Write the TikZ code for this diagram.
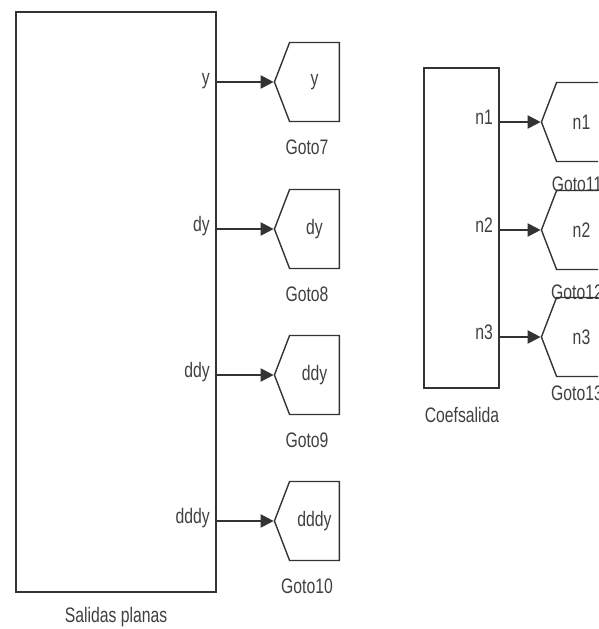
\documentclass[tikz,border=0pt]{standalone}
\usepackage{fontspec}
\setmainfont[FakeStretch=0.75]{Liberation Sans}
\usetikzlibrary{shapes.symbols,arrows.meta}
\newcommand{\corLinha}{black!80}
\newcommand{\corTexto}{black!75}
\newcommand{\letra}{\fontsize{21}{21}\selectfont}
\tikzset{
  bloco/.style={draw=\corLinha, line width=1.4pt, fill=white, inner sep=0pt},
  gotobloco/.style={shape=signal, signal to=west, signal pointer angle=138,
    draw=\corLinha, line width=1.4pt, minimum width=65pt, minimum height=79pt,
    inner sep=0pt, font=\letra, text=\corTexto},
  rotulo/.style={font=\letra, text=\corTexto, inner sep=0pt},
  sinal/.style={draw=\corLinha, line width=2pt, -{Triangle[length=13pt,width=13pt]}},
}
\begin{document}
\begin{tikzpicture}[x=1pt, y=-1pt]
        \useasboundingbox (0,0) rectangle (598,629);
        \clip (0,0) rectangle (598,629);

          % bloco Salidas planas
        \node[bloco, minimum width=200pt, minimum height=580pt] (salidas) at (116,302) {};
        \node[rotulo] (salidasLbl) at (116,617) {Salidas planas};

          % portas de saida
        \coordinate (pY)    at (216,82);
        \coordinate (pDY)   at (216,229);
        \coordinate (pDDY)  at (216,375);
        \coordinate (pDDDY) at (216,521);
        \node[rotulo, anchor=mid east] at (210,82)  {y};
        \node[rotulo, anchor=mid east] at (210,229) {dy};
        \node[rotulo, anchor=mid east] at (210,375) {ddy};
        \node[rotulo, anchor=mid east] at (210,521) {dddy};

          % blocos goto 7 a 10
        \node[gotobloco] (goto7)  at (314.5,82)  {y};
        \node[gotobloco] (goto8)  at (314.5,229) {dy};
        \node[gotobloco] (goto9)  at (314.5,375) {ddy};
        \node[gotobloco] (goto10) at (314.5,521) {dddy};
        \node[rotulo] (goto7Lbl)  at (307,147) {Goto7};
        \node[rotulo] (goto8Lbl)  at (307,294) {Goto8};
        \node[rotulo] (goto9Lbl)  at (307,440) {Goto9};
        \node[rotulo] (goto10Lbl) at (307,586) {Goto10};

           \draw[sinal] (pY)    -- (goto7.west);
           \draw[sinal] (pDY)   -- (goto8.west);
           \draw[sinal] (pDDY)  -- (goto9.west);
           \draw[sinal] (pDDDY) -- (goto10.west);

          % bloco Coefsalida
        \node[bloco, minimum width=75pt, minimum height=320pt] (coef) at (461.5,228) {};
        \node[rotulo] (coefLbl) at (462,415) {Coefsalida};

        \coordinate (pN1) at (499,122);
        \coordinate (pN2) at (499,230);
        \coordinate (pN3) at (499,337);
        \node[rotulo, anchor=mid east] at (493,122) {n1};
        \node[rotulo, anchor=mid east] at (493,230) {n2};
        \node[rotulo, anchor=mid east] at (493,337) {n3};

          % blocos goto 11 a 13 (etiquetas por baixo do bloco seguinte)
        \node[rotulo] (goto11Lbl) at (577,184) {Goto11};
        \node[rotulo] (goto12Lbl) at (577,292) {Goto12};
        \node[rotulo] (goto13Lbl) at (577,393) {Goto13};
        \node[gotobloco] (goto11) at (581.5,122) {n1};
        \node[gotobloco] (goto12) at (581.5,230) {n2};
        \node[gotobloco] (goto13) at (581.5,337) {n3};

           \draw[sinal] (pN1) -- (goto11.west);
           \draw[sinal] (pN2) -- (goto12.west);
           \draw[sinal] (pN3) -- (goto13.west);

    \end{tikzpicture}
\end{document}
